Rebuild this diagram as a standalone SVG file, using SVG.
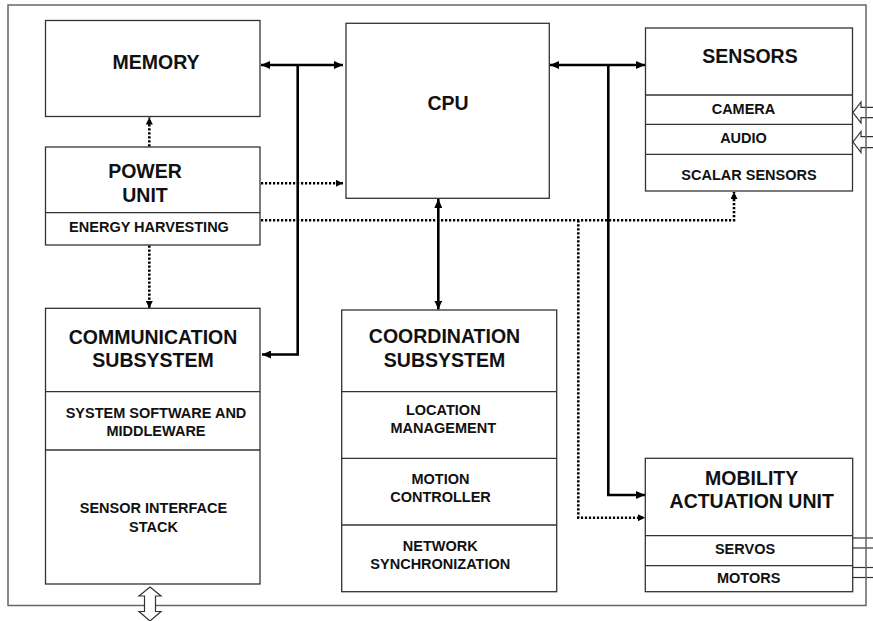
<svg xmlns="http://www.w3.org/2000/svg" width="873" height="621" viewBox="0 0 873 621">
<style>
.box{fill:#fff;stroke:#333;stroke-width:1.3}
.div{stroke:#333;stroke-width:1.3}
.big{font-family:"Liberation Sans",Arial,sans-serif;font-weight:bold;font-size:19.5px;fill:#111;text-anchor:middle}
.sm{font-family:"Liberation Sans",Arial,sans-serif;font-weight:bold;font-size:14.5px;fill:#111;text-anchor:middle}
.bus{fill:none;stroke:#000;stroke-width:2.6}
.dot{fill:none;stroke:#000;stroke-width:2.6;stroke-dasharray:2.2 1.8}
.hollow{fill:#fff;stroke:#333;stroke-width:1.2}
.wire{stroke:#333;stroke-width:1.2}
</style>
<defs>
<marker id="ah" markerUnits="userSpaceOnUse" markerWidth="9" markerHeight="8" refX="9" refY="4" orient="auto-start-reverse">
<path d="M0,0 L9,4 L0,8 z" fill="#000"/>
</marker>
<marker id="ahd" markerUnits="userSpaceOnUse" markerWidth="7" markerHeight="7" refX="7" refY="3.5" orient="auto">
<path d="M0,0 L7,3.5 L0,7 z" fill="#000"/>
</marker>
</defs>
<rect x="0" y="0" width="873" height="621" fill="#fff"/>

<!-- external input arrows (sensors) and actuator wires -->
<g id="external">
<path class="hollow" d="M875,107.3 H861 V102 L853,112.5 L861,123 V117.7 H875"/>
<path class="hollow" d="M875,136.7 H861 V131.5 L853,142 L861,152.5 V147.7 H875"/>
<line class="wire" x1="853" y1="538" x2="873" y2="538"/>
<line class="wire" x1="853" y1="548" x2="873" y2="548"/>
<line class="wire" x1="853" y1="567.5" x2="873" y2="567.5"/>
<line class="wire" x1="853" y1="577.5" x2="873" y2="577.5"/>
</g>

<rect id="frame" x="8" y="5" width="858" height="600.5" fill="none" stroke="#666" stroke-width="1.5"/>

<g id="io-arrow">
<path class="hollow" d="M150,587 L161,596 H155.5 V611.5 H161 L150,621 L139,611.5 H144.5 V596 H139 Z"/>
</g>

<g id="connectors">
<line class="bus" x1="261" y1="65" x2="343" y2="65" marker-start="url(#ah)" marker-end="url(#ah)"/>
<path class="bus" d="M297.7,65 V354.5 H262" marker-end="url(#ah)"/>
<line class="bus" x1="550" y1="65" x2="645" y2="65" marker-start="url(#ah)" marker-end="url(#ah)"/>
<path class="bus" d="M608.3,65 V495 H645" marker-end="url(#ah)"/>
<line class="bus" x1="438.3" y1="199" x2="438.3" y2="309.5" marker-start="url(#ah)" marker-end="url(#ah)"/>
<path class="dot" d="M149.3,146.5 V117.5" marker-end="url(#ahd)"/>
<path class="dot" d="M149.3,245.5 V308" marker-end="url(#ahd)"/>
<path class="dot" d="M261,183.3 H343" marker-end="url(#ahd)"/>
<path class="dot" d="M261,220.3 H734 V192" marker-end="url(#ahd)"/>
<path class="dot" d="M578.3,220.3 V517.7 H645" marker-end="url(#ahd)"/>
</g>

<g id="memory">
<rect class="box" x="45.5" y="20.5" width="214.5" height="96"/>
<text class="big" x="156" y="69">MEMORY</text>
</g>

<g id="power">
<rect class="box" x="45.5" y="147" width="214.5" height="98"/>
<line class="div" x1="45.5" y1="212.7" x2="260" y2="212.7"/>
<text class="big" x="145" y="178.3">POWER</text>
<text class="big" x="145" y="201.7">UNIT</text>
<text class="sm" x="149" y="232.3">ENERGY HARVESTING</text>
</g>

<g id="cpu">
<rect class="box" x="346" y="23.3" width="203.3" height="175"/>
<text class="big" x="448" y="110">CPU</text>
</g>

<g id="sensors">
<rect class="box" x="645.5" y="28" width="207" height="163"/>
<line class="div" x1="645.5" y1="95" x2="852.5" y2="95"/>
<line class="div" x1="645.5" y1="124.3" x2="852.5" y2="124.3"/>
<line class="div" x1="645.5" y1="154.3" x2="852.5" y2="154.3"/>
<text class="big" x="750" y="63">SENSORS</text>
<text class="sm" x="743.5" y="114">CAMERA</text>
<text class="sm" x="743.5" y="143">AUDIO</text>
<text class="sm" x="749" y="180">SCALAR SENSORS</text>
</g>

<g id="communication">
<rect class="box" x="45.5" y="308.3" width="214.5" height="275.7"/>
<line class="div" x1="45.5" y1="391.7" x2="260" y2="391.7"/>
<line class="div" x1="45.5" y1="450" x2="260" y2="450"/>
<text class="big" x="153" y="344">COMMUNICATION</text>
<text class="big" x="153" y="367">SUBSYSTEM</text>
<text class="sm" x="156" y="418.3">SYSTEM SOFTWARE AND</text>
<text class="sm" x="156" y="435.7">MIDDLEWARE</text>
<text class="sm" x="153.5" y="513.3">SENSOR INTERFACE</text>
<text class="sm" x="153.5" y="531.7">STACK</text>
</g>

<g id="coordination">
<rect class="box" x="341.7" y="310" width="215" height="281.7"/>
<line class="div" x1="341.7" y1="391.7" x2="556.7" y2="391.7"/>
<line class="div" x1="341.7" y1="458.3" x2="556.7" y2="458.3"/>
<line class="div" x1="341.7" y1="525" x2="556.7" y2="525"/>
<text class="big" x="444.5" y="343.3">COORDINATION</text>
<text class="big" x="444.5" y="367.3">SUBSYSTEM</text>
<text class="sm" x="443.3" y="415">LOCATION</text>
<text class="sm" x="443.3" y="433.3">MANAGEMENT</text>
<text class="sm" x="440.5" y="484">MOTION</text>
<text class="sm" x="440.5" y="501.7">CONTROLLER</text>
<text class="sm" x="440.3" y="551">NETWORK</text>
<text class="sm" x="440.3" y="569">SYNCHRONIZATION</text>
</g>

<g id="mobility">
<rect class="box" x="645.3" y="458.3" width="207.4" height="133.4"/>
<line class="div" x1="645.3" y1="535.7" x2="852.7" y2="535.7"/>
<line class="div" x1="645.3" y1="565.7" x2="852.7" y2="565.7"/>
<text class="big" x="751.7" y="485">MOBILITY</text>
<text class="big" x="751.7" y="508.3">ACTUATION UNIT</text>
<text class="sm" x="745" y="554">SERVOS</text>
<text class="sm" x="748.7" y="583.3">MOTORS</text>
</g>
</svg>
